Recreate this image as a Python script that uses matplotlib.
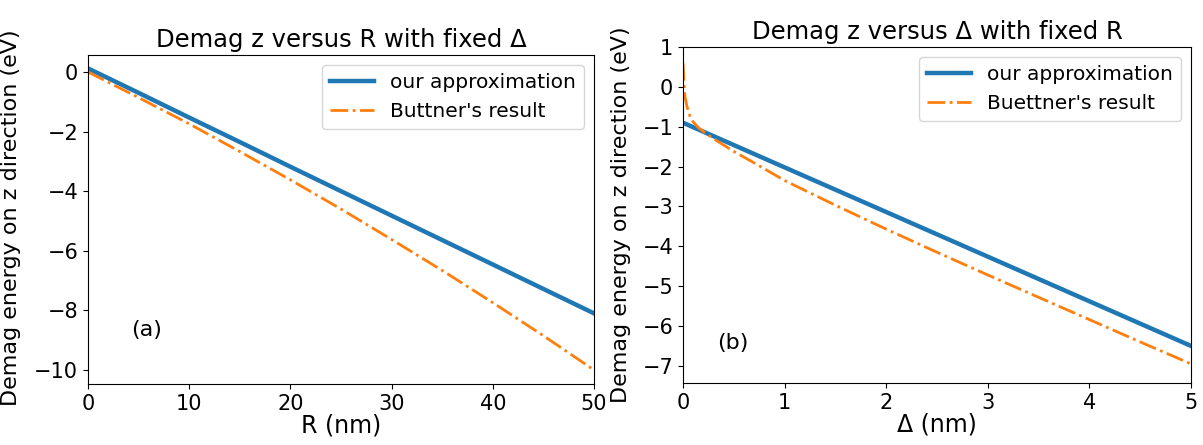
import matplotlib
matplotlib.use("Agg")
import matplotlib.pyplot as plt

# Panel (a): energy vs R with fixed Delta
R_nm = [0, 5, 10, 15, 20, 25, 30, 35, 40, 45, 50]
approx_a = [0.12, -0.70, -1.53, -2.35, -3.18, -4.00, -4.82, -5.64, -6.46, -7.28, -8.10]
buttner_a = [0.0, -0.86, -1.74, -2.67, -3.62, -4.60, -5.62, -6.66, -7.74, -8.85, -10.0]

# Panel (b): energy vs Delta with fixed R
delta_b_approx = [0, 1, 2, 3, 4, 5]
approx_b = [-0.90, -2.02, -3.14, -4.26, -5.38, -6.50]
delta_b = [0, 0.01, 0.02, 0.04, 0.07, 0.1, 0.15, 0.2, 0.3, 0.5, 0.75, 1.0,
           1.5, 2.0, 2.5, 3.0, 3.5, 4.0, 4.5, 5.0]
buettner_b = [0.6, 0.1, -0.25, -0.5, -0.75, -0.88, -1.02, -1.12, -1.3, -1.62,
              -1.98, -2.35, -2.97, -3.57, -4.15, -4.72, -5.28, -5.84, -6.4, -6.95]

W, H = 1203, 445
fig = plt.figure(figsize=(W / 100, H / 100), dpi=100)

blue = "#1f77b4"
orange = "#ff7f0e"
fs_title = 17.5
fs_xlab = 17
fs_ylab = 16
fs_tick = 15

ax1 = fig.add_axes([88 / W, (H - 384) / H, 506 / W, (384 - 55) / H])
ax1.plot(R_nm, approx_a, color=blue, lw=3.2, label="our approximation")
ax1.plot(R_nm, buttner_a, color=orange, lw=2, ls="-.", label="Buttner's result")
ax1.set_xlim(0, 50)
ax1.set_ylim(-10.47, 0.57)
ax1.set_xticks([0, 10, 20, 30, 40, 50])
ax1.set_yticks([0, -2, -4, -6, -8, -10])
ax1.tick_params(labelsize=fs_tick)
ax1.set_xlabel("R (nm)", fontsize=fs_xlab, labelpad=0)
ax1.set_ylabel("Demag energy on z direction (eV)", fontsize=fs_ylab)
ax1.yaxis.set_label_coords(-67 / 506, 0.505)
ax1.set_title("Demag z versus R with fixed Δ", fontsize=fs_title, pad=6)
ax1.legend(loc="upper right", fontsize=14.5, handlelength=2.2)
ax1.text(5.8, -8.66, "(a)", fontsize=16, ha="center", va="center")

ax2 = fig.add_axes([683 / W, (H - 383) / H, 508 / W, (383 - 47) / H])
ax2.plot(delta_b_approx, approx_b, color=blue, lw=3.2, label="our approximation")
ax2.plot(delta_b, buettner_b, color=orange, lw=2, ls="-.", label="Buettner's result")
ax2.set_xlim(0, 5)
ax2.set_ylim(-7.43, 1.0)
ax2.set_xticks([0, 1, 2, 3, 4, 5])
ax2.set_yticks([1, 0, -1, -2, -3, -4, -5, -6, -7])
ax2.tick_params(labelsize=fs_tick)
ax2.set_xlabel("Δ (nm)", fontsize=fs_xlab, labelpad=0)
ax2.set_ylabel("Demag energy on z direction (eV)", fontsize=fs_ylab)
ax2.yaxis.set_label_coords(-52 / 508, 0.5)
ax2.set_title("Demag z versus Δ with fixed R", fontsize=fs_title, pad=6)
ax2.legend(loc="upper right", fontsize=14.5, handlelength=2.2)
ax2.text(0.49, -6.42, "(b)", fontsize=16, ha="center", va="center")

fig.savefig("out.png", dpi=100)
